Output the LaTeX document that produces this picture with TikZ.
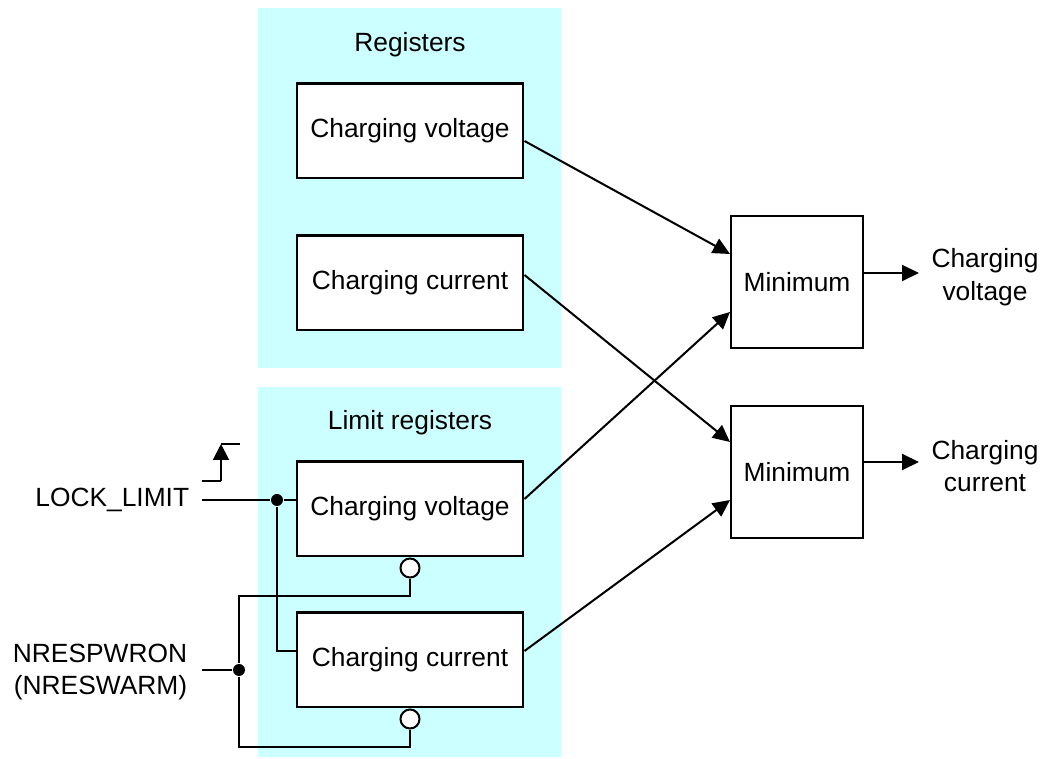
\documentclass[tikz,border=0pt]{standalone}
\usepackage{fontspec}
\setmainfont{Liberation Sans}
\usepackage{xcolor}
\usepackage{tikz}
\usetikzlibrary{positioning}
\usetikzlibrary{arrows.meta,shapes}
\usetikzlibrary{calc}
\definecolor{regcyan}{RGB}{204,255,255}

\begin{document}
\begin{tikzpicture}[x=0.02cm, y=-0.02cm, line width=1.15pt, font=\fontsize{15}{18.5}\selectfont,
  reg/.style={draw, fill=white, minimum width=4.54cm, minimum height=1.9cm, inner sep=0pt},
  minbox/.style={draw, fill=white, minimum width=2.64cm, minimum height=2.64cm, inner sep=0pt},
  sig/.style={-{Triangle[length=0.34cm, width=0.32cm]}},
  dot/.style={circle, fill, inner sep=0pt, minimum size=0.24cm},
  neg/.style={circle, draw, fill=white, inner sep=0pt, minimum size=0.38cm}]

 \useasboundingbox (0,0) rectangle (1042,759);
 \fill[regcyan] (258,8) rectangle (561,368);
 \fill[regcyan] (258,387) rectangle (561,757);
 \node (regs) at (410,45) {Registers};
 \node (lregs) at (410,423) {Limit registers};

 \foreach \y/\nm/\txt in {131/regV/Charging voltage, 283/regI/Charging current,
                          509/limV/Charging voltage, 660/limI/Charging current}{
   \node[reg] (\nm) at (410,\y) {\txt};
 }
 \node[minbox] (min1) at (797,282) {Minimum};
 \node[minbox] (min2) at (797,472) {Minimum};
 \node[align=center] (outV) at (985,277) {Charging\\voltage};
 \node[align=center] (outI) at (985,466) {Charging\\current};

 % register outputs into the minimum blocks
 \draw[sig] ($(regV.east)+(0,10)$) -- ($(min1.west)+(0,-28)$);
 \draw[sig] ($(regI.east)+(0,-8)$) -- ($(min2.west)+(0,-30)$);
 \draw[sig] ($(limV.east)+(0,-10)$) -- ($(min1.west)+(0,30)$);
 \draw[sig] ($(limI.east)+(0,-9)$) -- ($(min2.west)+(0,28)$);
 \draw[sig] ($(min1.east)+(0,-9)$) -- ++(55,0);
 \draw[sig] ($(min2.east)+(0,-10)$) -- ++(55,0);

 % lock input
 \node[anchor=east] (lock) at (196,500) {LOCK\_LIMIT};
 \node[dot] (dlock) at (277,500) {};
 \draw ($(lock.east)+(6,0)$) -- (dlock) -- (dlock -| limV.west);
 \draw (dlock) |- ($(limI.west)+(0,-9)$);
 \draw ($(lock.east)+(6,-19)$) -- ++(19,0) coordinate (e1);
 \draw[-{Triangle[length=0.32cm, width=0.32cm]}] (e1) -- ++(0,-37) coordinate (e2);
 \draw (e2) -- ++(19,0);

 % reset input
 \node[anchor=east, align=right] (nres) at (194,672) {NRESPWRON\\(NRESWARM)};
 \node[dot] (dnres) at (239,670) {};
 \draw (202,670) -- (dnres);
 \node[neg, below=0pt of limV] (nV) {};
 \node[neg, below=0pt of limI] (nI) {};
 \draw (nV.south) -- ++(0,17) -| (dnres);
 \draw (nI.south) -- ++(0,17) -| (dnres);

\end{tikzpicture}
\end{document}
